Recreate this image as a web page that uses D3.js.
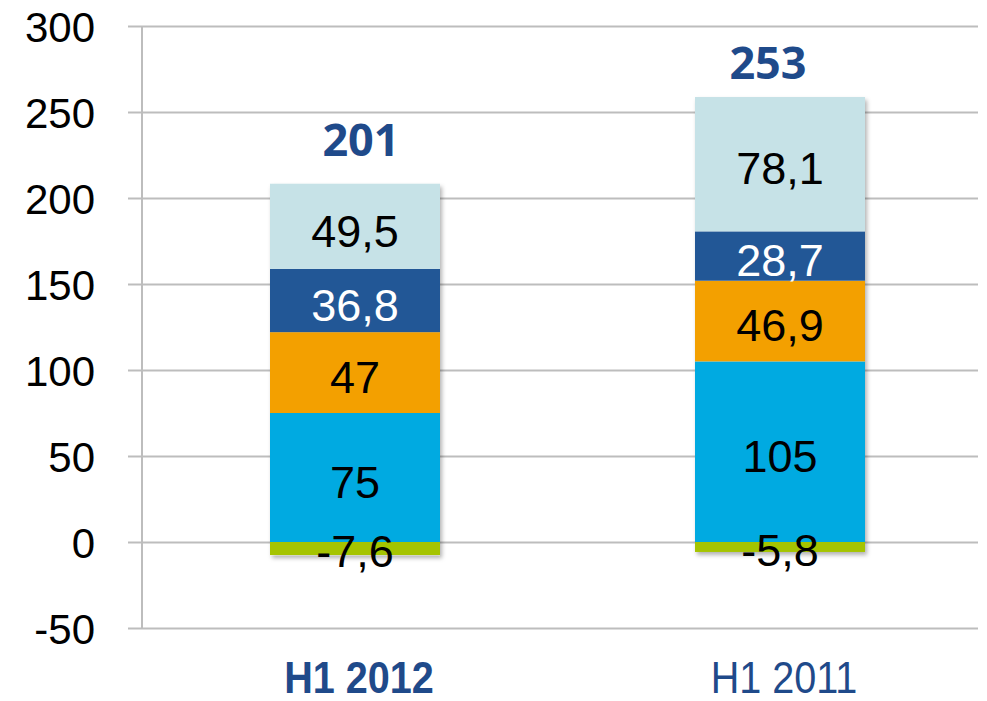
<!DOCTYPE html>
<html>
<head>
<meta charset="utf-8">
<script src="https://cdn.jsdelivr.net/npm/d3@7/dist/d3.min.js"></script>
<style>
  html, body { margin: 0; padding: 0; background: #fff; }
  svg { display: block; }
</style>
</head>
<body>
<svg id="chart" width="987" height="701"></svg>
<script>
const categories = ["H1 2012", "H1 2011"];
const negValues = [-7.6, -5.8];
const cyanValues = [75, 105];
const orangeValues = [47, 46.9];
const darkBlueValues = [36.8, 28.7];
const lightBlueValues = [49.5, 78.1];
const totals = ["201", "253"];
const yTicks = [-50, 0, 50, 100, 150, 200, 250, 300];

const colors = {
  neg: "#A5C400",
  cyan: "#00AAE1",
  orange: "#F3A000",
  dark: "#225796",
  light: "#C6E2E7"
};
const labelColors = { neg: "#000", cyan: "#000", orange: "#000", dark: "#fff", light: "#000" };
const fmt = v => String(v).replace(".", ",");

const svg = d3.select("#chart");
const y = d3.scaleLinear().domain([-50, 300]).range([628, 26]);
const x = d3.scaleBand().domain(categories).range([15, 1120]).paddingInner(0.6).paddingOuter(0.6);

const defs = svg.append("defs");
const f = defs.append("filter").attr("id", "shadow").attr("x", "-10%").attr("y", "-10%").attr("width", "130%").attr("height", "130%");
f.append("feDropShadow").attr("dx", 2).attr("dy", 3).attr("stdDeviation", 2).attr("flood-color", "#000").attr("flood-opacity", 0.3);

// gridlines
const yAxis = d3.axisLeft(y).tickValues(yTicks).tickSize(-(978 - 142)).tickFormat(d => d);
const gAxis = svg.append("g").attr("transform", "translate(142,0)").call(yAxis);
gAxis.select(".domain").remove();
gAxis.selectAll(".tick line").attr("x1", -14).attr("stroke", "#BDBDBD").attr("stroke-width", 2);
gAxis.selectAll(".tick text")
  .attr("x", -47)
  .attr("dy", "0.36em")
  .attr("fill", "#000")
  .style("font-family", "'Liberation Sans', Arial, sans-serif")
  .style("font-size", "42px");
svg.append("line").attr("x1", 142).attr("x2", 142).attr("y1", y(300)).attr("y2", y(-50))
  .attr("stroke", "#BDBDBD").attr("stroke-width", 2);

// stacked segments
const segs = [];
categories.forEach((c, i) => {
  segs.push({ c, key: "neg", v: negValues[i], y0: negValues[i], y1: 0 });
  let base = 0;
  [["cyan", cyanValues], ["orange", orangeValues], ["dark", darkBlueValues], ["light", lightBlueValues]].forEach(([k, arr]) => {
    segs.push({ c, key: k, v: arr[i], y0: base, y1: base + arr[i] });
    base += arr[i];
  });
});

const bars = svg.append("g");
categories.forEach(c => {
  const s = segs.filter(d => d.c === c);
  const top = d3.max(s, d => d.y1), bot = d3.min(s, d => d.y0);
  bars.append("rect").attr("x", x(c)).attr("width", x.bandwidth())
    .attr("y", y(top)).attr("height", y(bot) - y(top))
    .attr("fill", "#fff").attr("filter", "url(#shadow)");
});
bars.selectAll("rect.seg").data(segs).join("rect")
  .attr("class", "seg")
  .attr("x", d => x(d.c))
  .attr("width", x.bandwidth())
  .attr("y", d => y(d.y1))
  .attr("height", d => y(d.y0) - y(d.y1))
  .attr("fill", d => colors[d.key]);

svg.append("g").selectAll("text").data(segs).join("text")
  .attr("x", d => x(d.c) + x.bandwidth() / 2)
  .attr("y", d => (y(d.y0) + y(d.y1)) / 2)
  .attr("dy", d => d.key === "neg" ? "0.42em" : "0.45em")
  .attr("text-anchor", "middle")
  .attr("fill", d => labelColors[d.key])
  .style("font-family", "'Liberation Sans', Arial, sans-serif")
  .style("font-size", "45px")
  .text(d => fmt(d.v));

// totals
svg.append("g").selectAll("text").data(categories).join("text")
  .attr("x", (c, i) => x(c) + x.bandwidth() / 2 + (i === 0 ? 6 : -12))
  .attr("y", (c, i) => y(d3.max(segs.filter(d => d.c === c), d => d.y1)) - (i === 0 ? 28 : 18))
  .attr("text-anchor", "middle")
  .attr("fill", "#1F4A8A")
  .style("font-family", "'Open Sans', sans-serif")
  .style("font-weight", "700")
  .style("font-size", "45px")
  .text((c, i) => totals[i]);

// category labels (condensed)
svg.append("g").selectAll("text").data(categories).join("text")
  .attr("transform", c => `translate(${x(c) + x.bandwidth() / 2 + 4},693) scale(0.9,1)`)
  .attr("text-anchor", "middle")
  .attr("fill", "#1F4A8A")
  .style("font-family", "'Liberation Sans', Arial, sans-serif")
  .style("font-weight", (c, i) => i === 0 ? "700" : "400")
  .style("font-size", "44px")
  .text(c => c);
</script>
</body>
</html>
